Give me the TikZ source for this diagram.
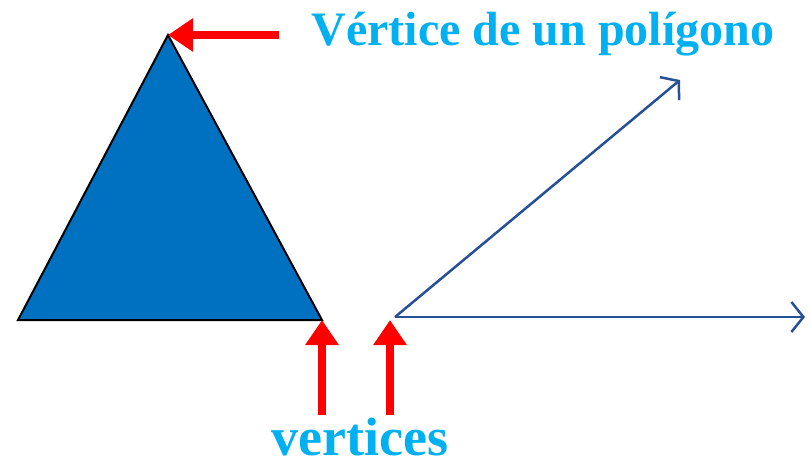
\documentclass[tikz,border=0pt]{standalone}
\usepackage{fontspec}
\setmainfont{Liberation Serif}
\usetikzlibrary{arrows.meta}
\definecolor{trifill}{RGB}{0,112,192}
\definecolor{raycol}{RGB}{40,80,150}
\definecolor{txtcol}{RGB}{0,176,240}
\tikzset{
  redarrow/.style={red, line width=8pt, -{Triangle[length=25pt, width=32pt]}},
  ray/.style={raycol, line width=2.5pt, -{Straight Barb[length=12pt, width=30pt]}},
  lbl/.style={txtcol, anchor=base, inner sep=0pt, font=\bfseries}
}
\begin{document}
\begin{tikzpicture}[x=1pt, y=-1pt]
\useasboundingbox (0,0) rectangle (811,466);
% triangle
\coordinate (top) at (168,35);
\coordinate (bl) at (18,320);
\coordinate (br) at (322,320);
\filldraw[fill=trifill, draw=black, line width=2pt, line join=miter] (top) -- (bl) -- (br) -- cycle;
% angle
\coordinate (v) at (395,317);
\coordinate (r1) at (680,80);
\coordinate (r2) at (805,317);
\draw[ray] (v) -- (r1);
\draw[ray] (v) -- (r2);
% labels
\node[lbl, font=\fontsize{48}{52}\selectfont\bfseries] (poly) at (543,45) {Vértice de un polígono};
\node[lbl, font=\fontsize{54}{58}\selectfont\bfseries] (verts) at (360,455) {vertices};
\coordinate (a0) at (279,35);
\coordinate (b0) at (322,415);
\coordinate (c0) at (390,415);
\draw[redarrow] (a0) -- (top);
\draw[redarrow] (b0) -- (br);
\draw[redarrow] (c0) -- (390,320);
\end{tikzpicture}
\end{document}
